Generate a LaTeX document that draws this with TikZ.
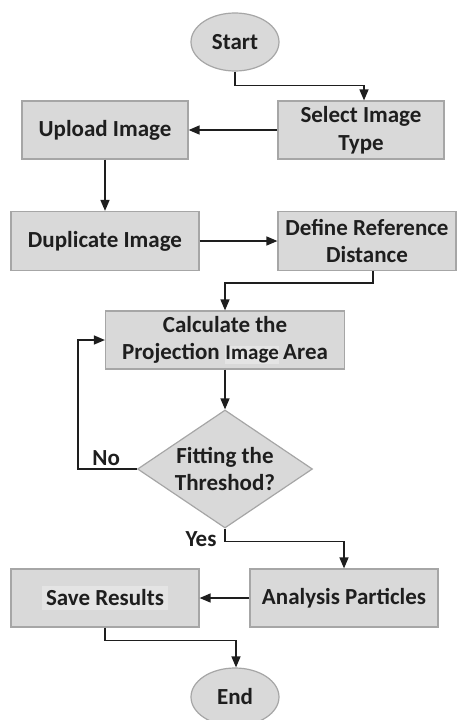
\documentclass[tikz,border=0pt]{standalone}
\usepackage{fontspec}
\setmainfont{Carlito}
\usetikzlibrary{shapes.geometric,arrows.meta,calc}
\definecolor{boxfill}{HTML}{D9D9D9}
\definecolor{boxline}{HTML}{A6A6A6}
\definecolor{hlfill}{HTML}{E4E4E4}
\definecolor{ink}{HTML}{1E1E1E}
\newcommand{\lite}[2][1pt]{{\setlength{\fboxsep}{#1}\colorbox{hlfill}{#2}}}
\begin{document}
\begin{tikzpicture}[x=1pt,y=-1pt,
  every node/.style={font=\fontsize{23}{27.5}\selectfont\bfseries, text=ink, align=center},
  procbox/.style={rectangle, draw=boxline, fill=boxfill, line width=1.2pt, inner sep=1pt},
  termbox/.style={ellipse, draw=boxline, fill=boxfill, line width=1.2pt, minimum width=88pt, minimum height=58pt, inner sep=0pt},
  decbox/.style={diamond, draw=boxline, fill=boxfill, line width=1.2pt, inner sep=0pt, aspect=1.48, minimum width=175pt, minimum height=118pt},
  arr/.style={draw=ink, line width=1.4pt, -{Triangle[length=11pt,width=9pt]}},
  lbl/.style={font=\fontsize{23}{26}\selectfont\bfseries}]
\useasboundingbox (0,0) rectangle (457,720);

% process steps
\node[termbox] (start) at (235,42) {Start};
\node[procbox, minimum width=166pt, minimum height=58pt] (sel) at (361,130) {Select Image\\Type};
\node[procbox, minimum width=166pt, minimum height=58pt] (up) at (105,130) {Upload Image};
\node[procbox, minimum width=188pt, minimum height=59pt] (dup) at (105,241) {Duplicate Image};
\node[procbox, minimum width=178pt, minimum height=59pt] (def) at (367,241) {Define Reference\\Distance};
\node[procbox, minimum width=239pt, minimum height=58pt] (calc) at (225,340) {Calculate the\\Projection \lite[0.5pt]{\fontsize{21}{24}\selectfont Image}\,Area};
\node[decbox] (dia) at (225,469) {Fitting the\\Threshod?};
\node[procbox, minimum width=188pt, minimum height=58pt] (ana) at (344,598) {Analysis Particles};
\node[procbox, minimum width=188pt, minimum height=58pt] (save) at (105,598) {\lite[4pt]{Save Results}};
\node[termbox] (end) at (235,697) {End};

% connectors
\draw[arr] (start.south) -- ++(0,14) -| ([xshift=3pt]sel.north);
\draw[arr] (sel.west) -- (up.east);
\draw[arr] (up.south) -- (dup.north);
\draw[arr] (dup.east) -- (def.west);
\draw[arr] ([xshift=6pt]def.south) -- ++(0,12) -| (calc.north);
\draw[arr] (calc.south) -- (dia.north);
\draw[arr] (dia.west) -- node[lbl, above, pos=0.52, yshift=-1pt] (no) {No} ++(-59,0) |- (calc.west);
\draw[arr] (dia.south) -- ++(0,13) -| (ana.north);
\node[lbl] (yes) at ($(dia.south)+(-24,11)$) {Yes};
\draw[arr] (ana.west) -- (save.east);
\draw[arr] (save.south) -- ++(0,13) -| ([xshift=1pt]end.north);
\end{tikzpicture}
\end{document}
